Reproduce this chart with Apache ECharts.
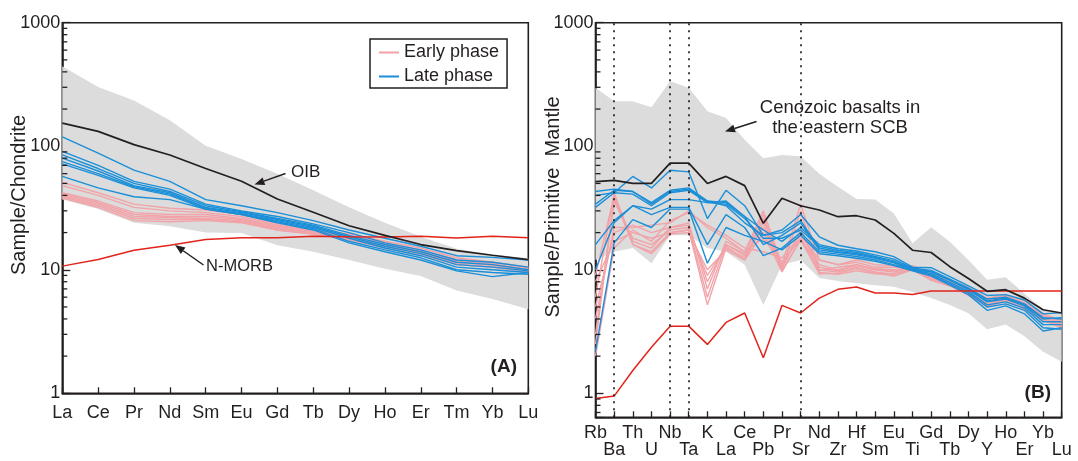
<!DOCTYPE html>
<html>
<head>
<meta charset="UTF-8">
<title>Chondrite and primitive mantle normalized patterns</title>
<script src="https://cdn.jsdelivr.net/npm/echarts@6/dist/echarts.min.js"></script>
<style>
  html, body { margin: 0; padding: 0; background: #fff; }
  #chart { width: 1078px; height: 461px; }
</style>
</head>
<body>
<div id="chart"></div>
<script>
// ---- panel A: chondrite-normalized REE ----
const catsA = ['La','Ce','Pr','Nd','Sm','Eu','Gd','Tb','Dy','Ho','Er','Tm','Yb','Lu'];
const oibA  = [154, 132, 103, 85, 66, 52, 37.4, 29.2, 22.7, 19, 16, 14.3, 13.1, 12.1];
const morbA = [10.7, 12.1, 14.4, 15.8, 17.6, 18.2, 18.2, 18.7, 18.5, 18.4, 18.7, 18.1, 18.7, 18.2];
const fieldUpperA = [445, 302, 234, 162, 101, 79, 60, 44, 32, 24, 18.5, 14.8, 13.2, 12.4];
const fieldLowerA = [37, 31, 24, 22.5, 20, 19.8, 15.8, 14, 12, 10.2, 8.9, 6.8, 5.8, 4.8];
const earlyA = [
  [51, 42, 34, 31.5, 30.5, 28, 23.5, 21, 19.5, 17, 15, 12.5, 11.5, 10.5],
  [48, 40, 32, 30, 29, 27, 23, 20.5, 19, 16.5, 14.5, 12, 11, 10.2],
  [41, 35, 28, 27, 27, 25.5, 22, 20, 18.5, 16, 14, 11.8, 11.2, 10],
  [40, 34, 27, 26.5, 26, 25, 21.5, 20, 18, 15.5, 13.8, 11.5, 10.8, 9.8],
  [39, 33, 26, 25.5, 25.5, 24.5, 21, 19.5, 18, 15.5, 13.5, 11.2, 10.5, 9.6],
  [38, 32, 25, 24.5, 25, 24, 21, 19.5, 17.5, 15, 13.2, 11, 10.5, 10],
  [42, 36, 29, 28, 28, 26, 22.5, 20.5, 18.8, 16.2, 14.2, 12, 11.5, 10.4]
];
const lateA = [
  [119, 88, 64, 52, 37, 33, 29, 25, 21, 18, 15.5, 13, 12.6, 12],
  [91, 70, 52, 45, 34, 30, 27, 23.5, 20, 16.5, 14.5, 12, 11.5, 10.5],
  [85, 66, 50, 43, 33, 29.5, 26, 23, 19, 16, 14, 11.5, 11, 10],
  [80, 63, 48, 42, 32, 29, 25.5, 22.5, 18.5, 15.5, 13.5, 11, 10.5, 9.8],
  [75, 60, 47, 41, 31.5, 28.5, 25, 22, 18, 15, 13, 10.5, 10, 9.5],
  [72, 58, 46, 40, 31, 28, 24.5, 21.5, 17, 14.5, 12.5, 10, 9.5, 9.2],
  [57, 46, 39, 37, 31, 28, 24, 21, 16.5, 14, 12, 9.8, 8.8, 9.5]
];
const minorTicksA = [2,3,4,5,6,7,8,9,20,30,40,50,60,70,80,90,200,300,400,500,600,700,800,900];

// ---- panel B: primitive-mantle-normalized trace elements ----
const catsB = ['Rb','Ba','Th','U','Nb','Ta','K','La','Ce','Pb','Pr','Sr','Nd','Zr','Hf','Sm','Eu','Ti','Gd','Tb','Dy','Y','Ho','Er','Yb','Lu'];
const oibB  = [51.8, 53, 50, 50, 73, 73, 50, 57, 48, 23.8, 38, 33, 30.5, 26.9, 27.4, 25.3, 19.7, 14.4, 13.8, 10.6, 8.5, 6.7, 6.9, 5.9, 4.75, 4.47];
const morbB = [0.91, 0.95, 1.53, 2.36, 3.5, 3.5, 2.49, 3.75, 4.47, 1.94, 5.15, 4.47, 5.9, 6.95, 7.25, 6.5, 6.5, 6.3, 6.75, 6.75, 6.75, 6.75, 6.75, 6.75, 6.75, 6.75];
const fieldUpperB = [297, 231, 231, 207, 336, 297, 192, 169, 113, 80, 85, 83, 60, 47, 37.5, 37, 28.6, 16.4, 22.1, 16.9, 12, 8.3, 8.7, 6.4, 4.8, 4.4];
const fieldLowerB = [12, 14, 15, 11.3, 19, 19, 15, 14, 11, 5.2, 11, 12, 8.6, 8.1, 7.8, 7.5, 7.3, 6.6, 5.9, 5.2, 4.45, 3.3, 3.6, 2.9, 2.17, 1.8];
const earlyB = [
  [9, 40, 17, 15, 22, 24, 7, 17, 14, 30, 11, 34, 12, 11, 11.5, 10.5, 10.5, 10.5, 9, 8, 7, 5.8, 6.2, 5.4, 4.3, 3.8],
  [6, 42, 16, 14, 20, 21, 5.2, 15, 12.5, 26, 10, 30, 10, 9.6, 10.5, 9.6, 9.2, 10.2, 8.5, 7.6, 6.5, 5.3, 5.9, 5, 4, 3.6],
  [3, 36, 18, 16, 21, 22, 6, 16, 13, 22, 10.5, 20, 11, 10, 10.8, 10, 9.6, 10.4, 8.8, 7.8, 6.8, 5.5, 6, 5.2, 4.1, 3.7],
  [2, 15, 21, 17, 25, 29, 23, 19, 15, 14, 12.5, 19, 12, 11, 12, 11, 10.8, 10.8, 9.3, 8.3, 7.2, 5.9, 6.3, 5.6, 4.4, 3.9],
  [4, 22, 22, 23, 24, 30, 22, 18, 14, 18, 11.5, 18, 10.5, 9.8, 11, 10.2, 10, 10.3, 8.6, 7.5, 6.4, 5.2, 5.8, 5.1, 3.9, 3.5],
  [8, 17, 20, 18, 20, 21, 9, 15.5, 12, 24, 9.8, 17.5, 9.3, 9.4, 10.2, 9.4, 8.9, 10, 8.2, 7.4, 6.2, 5.1, 5.7, 4.8, 3.9, 3.4],
  [5, 20, 23, 20, 22, 23, 8, 16, 13.5, 28, 10.2, 21, 9.8, 10.5, 11, 10, 9.8, 10.5, 9, 7.9, 6.9, 5.7, 6.1, 5.3, 4.2, 3.7],
  [2.5, 38, 16, 13.5, 19.5, 20, 10, 14.5, 12, 20, 9.6, 18, 9.5, 9.2, 9.8, 9.3, 9.3, 10, 8.4, 7.5, 6.3, 5, 5.6, 4.9, 3.9, 3.5]
];
const lateB = [
  [32, 42, 57, 46, 64, 62, 26, 44, 33, 19, 21, 28, 18.5, 15.8, 14.8, 14, 12.8, 10.5, 10.4, 8.8, 7.4, 6.2, 6.3, 5.7, 4.4, 4.5],
  [43, 45, 43, 34, 43, 45, 36, 35, 27, 21, 17, 22, 16, 14.8, 14.2, 13.2, 12.2, 10.3, 9.9, 8.4, 7.1, 5.8, 6, 5.3, 4.1, 4],
  [40, 42, 41, 33, 42, 44, 35, 34, 26, 18, 18, 21, 15.5, 14.4, 13.8, 12.8, 11.8, 10.1, 9.6, 8.2, 6.9, 5.5, 5.8, 5.1, 3.8, 3.8],
  [16, 25, 33, 31, 37, 37, 35, 36, 27, 16, 19, 24, 14.5, 13.8, 13.2, 12.4, 11.4, 10, 9.3, 7.9, 6.7, 5.2, 5.5, 4.9, 3.6, 3.6],
  [10, 24, 33, 28, 32, 32, 16, 28, 22, 13, 15, 20, 14, 13.4, 12.8, 12, 11, 9.9, 9.1, 7.7, 6.5, 5, 5.3, 4.7, 3.4, 3.3],
  [2.2, 16.5, 25.5, 22, 31, 31, 11.3, 22, 19, 17, 14.5, 19, 13.5, 13, 12.4, 11.7, 10.8, 9.8, 8.9, 7.5, 6.3, 4.7, 5.1, 4.4, 3.2, 3.4],
  [34, 44, 43, 35, 44, 46, 36, 33, 24, 19, 20, 25, 15, 14, 13.5, 12.6, 11.6, 10.2, 9.7, 8.3, 7, 5.6, 5.9, 5.2, 4, 4.1]
];
const dottedB = ['Ba', 'Nb', 'Ta', 'Sr'];
const minorTicksB = [0.7,0.8,0.9,2,3,4,5,6,7,8,9,20,30,40,50,60,70,80,90,200,300,400,500,600,700,800,900];

const FONT = '"Liberation Sans", Arial, Helvetica, sans-serif';
const INK = '#231f20';
const PINK = '#f2a3a8';
const BLUE = '#1a8fd8';
const RED = '#e2231a';
const GRAY = '#dcdcdc';

function lineSeries(name, data, color, idx, width, z) {
  return {
    name: name, type: 'line', xAxisIndex: idx, yAxisIndex: idx, data: data,
    symbol: 'none', z: z, silent: true,
    lineStyle: { color: color, width: width },
    itemStyle: { color: color }
  };
}

// grey field drawn as one polygon through the axis scales
function fieldSeries(idx, upper, lower) {
  return {
    type: 'custom', xAxisIndex: idx, yAxisIndex: idx, z: 1, silent: true, clip: true,
    data: [[0, upper[0]]],
    renderItem: function (params, api) {
      const pts = [];
      upper.forEach(function (v, i) { pts.push(api.coord([i, v])); });
      for (let i = lower.length - 1; i >= 0; i--) pts.push(api.coord([i, lower[i]]));
      return { type: 'polygon', shape: { points: pts }, style: { fill: GRAY } };
    }
  };
}

// log minor ticks (2..9 per decade) on the left axis
function minorTickSeries(idx, vals) {
  return {
    type: 'custom', xAxisIndex: idx, yAxisIndex: idx, z: 6, silent: true,
    data: vals.map(function (v) { return [0, v]; }),
    encode: { x: 0, y: 1 },
    renderItem: function (params, api) {
      const c = api.coord([0, api.value(1)]);
      return { type: 'line', shape: { x1: c[0], y1: c[1], x2: c[0] + 5, y2: c[1] },
               style: { stroke: INK, lineWidth: 1.3 } };
    }
  };
}

function powerLabel(v) {
  const e = Math.log10(v);
  return Math.abs(e - Math.round(e)) < 1e-6 ? String(Math.round(v)) : '';
}

function xAxisOf(idx, cats, margin, twoRows) {
  return {
    type: 'category', gridIndex: idx, data: cats, boundaryGap: false,
    axisLine: { lineStyle: { color: INK, width: 1.6 } },
    axisTick: { inside: true, length: 6, interval: 0, lineStyle: { color: INK, width: 1.3 } },
    axisLabel: {
      interval: 0, margin: margin, color: INK, fontSize: 18, fontFamily: FONT, lineHeight: 17,
      formatter: twoRows ? function (v, i) { return i % 2 ? '\n' + v : v; } : null
    },
    splitLine: { show: false }
  };
}

function yAxisOf(idx, min) {
  return {
    type: 'log', gridIndex: idx, logBase: 10, min: min, max: 1000,
    axisLine: { show: true, lineStyle: { color: INK, width: 1.6 } },
    axisTick: { show: true, inside: true, length: 8, lineStyle: { color: INK, width: 1.3 } },
    axisLabel: { margin: 2, color: INK, fontSize: 18, fontFamily: FONT, formatter: powerLabel },
    splitLine: { show: false },
    minorTick: { show: false }
  };
}

function arrow(x1, y1, x2, y2) {
  const a = Math.atan2(y2 - y1, x2 - x1);
  const L = 10, W = 4;
  const bx = x2 - L * Math.cos(a), by = y2 - L * Math.sin(a);
  const px = -Math.sin(a) * W, py = Math.cos(a) * W;
  return [
    { type: 'line', z: 100, shape: { x1: x1, y1: y1, x2: bx, y2: by }, style: { stroke: INK, lineWidth: 1.5 } },
    { type: 'polygon', z: 100, shape: { points: [[x2, y2], [bx + px, by + py], [bx - px, by - py]] }, style: { fill: INK } }
  ];
}

function label(x, y, text, font, extra) {
  return {
    type: 'text', x: x, y: y, z: 100,
    style: Object.assign({ text: text, fill: INK, font: font, verticalAlign: 'middle' }, extra || {})
  };
}

function rotated(g) { g.rotation = Math.PI / 2; return g; }

const series = [];
series.push(fieldSeries(0, fieldUpperA, fieldLowerA));
earlyA.forEach(function (d) { series.push(lineSeries('Early phase', d, PINK, 0, 1.4, 2)); });
lateA.forEach(function (d) { series.push(lineSeries('Late phase', d, BLUE, 0, 1.4, 3)); });
series.push(lineSeries('N-MORB', morbA, RED, 0, 1.5, 4));
series.push(lineSeries('OIB', oibA, INK, 0, 1.7, 4));
series.push(minorTickSeries(0, minorTicksA));

series.push(fieldSeries(1, fieldUpperB, fieldLowerB));
earlyB.forEach(function (d) { series.push(lineSeries('Early phase', d, PINK, 1, 1.4, 2)); });
lateB.forEach(function (d) { series.push(lineSeries('Late phase', d, BLUE, 1, 1.4, 3)); });
series.push(lineSeries('N-MORB', morbB, RED, 1, 1.5, 4));
const oibLineB = lineSeries('OIB', oibB, INK, 1, 1.7, 4);
oibLineB.markLine = {
  symbol: 'none', silent: true, label: { show: false },
  lineStyle: { type: [2, 5], color: INK, width: 1.7 },
  data: dottedB.map(function (n) { return { xAxis: n }; })
};
series.push(oibLineB);
series.push(minorTickSeries(1, minorTicksB));

const F = function (s, w) { return (w ? w + ' ' : '') + s + 'px ' + FONT; };
const graphics = []
  .concat([rotated(label(19, 195, 'Sample/Chondrite', F(20), { textAlign: 'center' }))])
  .concat([rotated(label(553, 207, 'Sample/Primitive  Mantle', F(20), { textAlign: 'center' }))])
  .concat([label(291, 172.5, 'OIB', F(17))], arrow(285.5, 173.5, 254.5, 184.5))
  .concat([label(206, 266, 'N-MORB', F(16.5))], arrow(203.5, 265, 175, 245))
  .concat([label(517, 367, '(A)', F(19, 'bold'), { textAlign: 'right' })])
  .concat([label(840, 117.5, 'Cenozoic basalts in\nthe eastern SCB', F(18.5), { textAlign: 'center', lineHeight: 20 })],
          arrow(756.5, 121.5, 725, 131.5))
  .concat([label(1051, 393, '(B)', F(19, 'bold'), { textAlign: 'right' })]);

const chart = echarts.init(document.getElementById('chart'), null, { renderer: 'canvas' });
chart.setOption({
  animation: false,
  backgroundColor: '#fff',
  grid: [
    { left: 62.3, top: 22.7, width: 466, height: 370.6, show: true, borderColor: INK, borderWidth: 1.6, backgroundColor: 'transparent' },
    { left: 595.5, top: 22.7, width: 466.2, height: 394.6, show: true, borderColor: INK, borderWidth: 1.6, backgroundColor: 'transparent' }
  ],
  legend: {
    data: ['Early phase', 'Late phase'],
    orient: 'vertical', left: 370, top: 39,
    borderColor: INK, borderWidth: 1.5, borderRadius: 0,
    padding: [4, 8, 2, 9],
    icon: 'rect', itemWidth: 20, itemHeight: 2, itemGap: 5,
    selectedMode: false,
    textStyle: { color: INK, fontSize: 18, fontFamily: FONT, lineHeight: 19 }
  },
  xAxis: [xAxisOf(0, catsA, 11, false), xAxisOf(1, catsB, 7, true)],
  yAxis: [yAxisOf(0, 1), yAxisOf(1, 0.64)],
  series: series,
  graphic: graphics
});
</script>
</body>
</html>
